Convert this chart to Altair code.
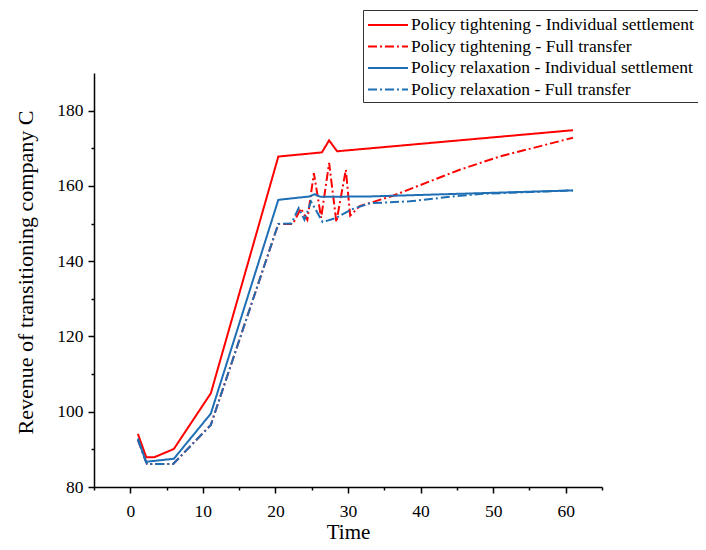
import altair as alt
import pandas as pd

series_names = [
    "Policy tightening - Individual settlement",
    "Policy tightening - Full transfer",
    "Policy relaxation - Individual settlement",
    "Policy relaxation - Full transfer",
]
colors = ["#ff0000", "#ff0000", "#1f6fb5", "#1f6fb5"]
dashes = [[1, 0], [9, 3, 2, 3], [1, 0], [9, 3, 2, 3]]

# Policy tightening - Individual settlement
t_ti = [1.05, 2.2, 3.3, 6.0, 10.2, 11.1, 20.4, 26.4, 27.4, 28.5, 61.0]
v_ti = [94.1, 87.9, 87.9, 90.1, 102.3, 104.9, 167.8, 168.9, 172.1, 169.2, 174.8]

# Policy tightening - Full transfer
t_tf = [1.05, 2.3, 5.9, 11.1, 20.4, 22.4, 23.5, 24.4, 25.3, 26.3, 27.4, 28.4,
        29.7, 30.3, 31.6, 36.2, 45.4, 50.9, 61.0]
v_tf = [92.5, 86.1, 86.1, 96.5, 149.9, 149.9, 154.0, 151.0, 163.4, 151.5, 166.1,
        150.4, 164.3, 152.1, 154.6, 157.4, 164.3, 167.8, 172.8]

# Policy relaxation - Individual settlement
t_ri = [1.05, 2.15, 6.0, 11.1, 20.4, 24.7, 25.4, 26.2, 33.0, 61.0]
v_ri = [92.9, 86.7, 87.5, 99.5, 156.3, 157.2, 157.8, 157.1, 157.2, 158.8]

# Policy relaxation - Full transfer
t_rf = [1.05, 2.3, 5.9, 11.1, 20.4, 22.2, 23.2, 24.0, 24.9, 26.5, 28.4, 30.4,
        33.0, 38.5, 45.4, 48.6, 61.0]
v_rf = [92.5, 86.1, 86.1, 96.5, 149.9, 150.0, 154.1, 151.0, 155.9, 150.4, 151.5,
        153.7, 155.4, 155.9, 157.4, 157.9, 158.8]

x_ticks = [-5, 0, 5, 10, 15, 20, 25, 30, 35, 40, 45, 50, 55, 60, 65]
y_ticks = [80, 90, 100, 110, 120, 130, 140, 150, 160, 170, 180]

rows = []
for name, ts, vs in zip(series_names, [t_ti, t_tf, t_ri, t_rf], [v_ti, v_tf, v_ri, v_rf]):
    for i, (t, v) in enumerate(zip(ts, vs)):
        rows.append({"series": name, "t": t, "v": v, "i": i})
df = pd.DataFrame(rows)

FONT = "Liberation Serif"

legend = alt.Legend(
    title=None,
    orient="none",
    legendX=269,
    legendY=-63,
    symbolType="M-1,0H3",
    symbolSize=400,
    symbolStrokeWidth=2,
    labelFont=FONT,
    labelFontSize=17.5,
    labelColor="black",
    labelLimit=600,
    labelOffset=22,
    rowPadding=1.5,
    padding=4,
    strokeColor="#333333",
)

chart = (
    alt.Chart(df)
    .mark_line(strokeWidth=2, clip=True)
    .encode(
        x=alt.X(
            "t:Q",
            scale=alt.Scale(domain=[-5, 65], nice=False, zero=False),
            axis=alt.Axis(
                values=x_ticks,
                labelExpr="datum.value % 10 === 0 ? datum.label : ''",
                tickSize={"condition": {"test": "datum.value % 10 === 0", "value": 6}, "value": 3},
                tickColor="black",
                tickWidth=1.5,
                domainColor="black",
                domainWidth=1.5,
                labelFont=FONT,
                labelFontSize=17.5,
                labelColor="black",
                labelPadding=9,
                grid=False,
                titleFont=FONT,
                titleFontSize=21,
                titleFontWeight="normal",
                titleColor="black",
                titleBaseline="middle",
                titleY=45,
            ),
            title="Time",
        ),
        y=alt.Y(
            "v:Q",
            scale=alt.Scale(domain=[80, 190], nice=False, zero=False),
            axis=alt.Axis(
                values=y_ticks,
                labelExpr="datum.value % 20 === 0 ? datum.label : ''",
                tickSize={"condition": {"test": "datum.value % 20 === 0", "value": 6}, "value": 3},
                tickColor="black",
                tickWidth=1.5,
                domainColor="black",
                domainWidth=1.5,
                labelFont=FONT,
                labelFontSize=17.5,
                labelColor="black",
                labelPadding=5,
                grid=False,
                titleFont=FONT,
                titleFontSize=22,
                titleFontWeight="normal",
                titleColor="black",
                titleBaseline="middle",
                titleX=-69,
                titleY=199,
            ),
            title="Revenue of transitioning company C",
        ),
        color=alt.Color("series:N", scale=alt.Scale(domain=series_names, range=colors), legend=legend),
        strokeDash=alt.StrokeDash("series:N", scale=alt.Scale(domain=series_names, range=dashes), legend=legend),
        order="i:Q",
    )
    .properties(
        width=508,
        height=414,
        autosize=alt.AutoSizeParams(type="none"),
        padding={"left": 86, "top": 65, "right": 96, "bottom": 55},
    )
    .configure_view(stroke=None)
)

chart.save("out.html", embed_options={"renderer": "svg", "actions": False})
